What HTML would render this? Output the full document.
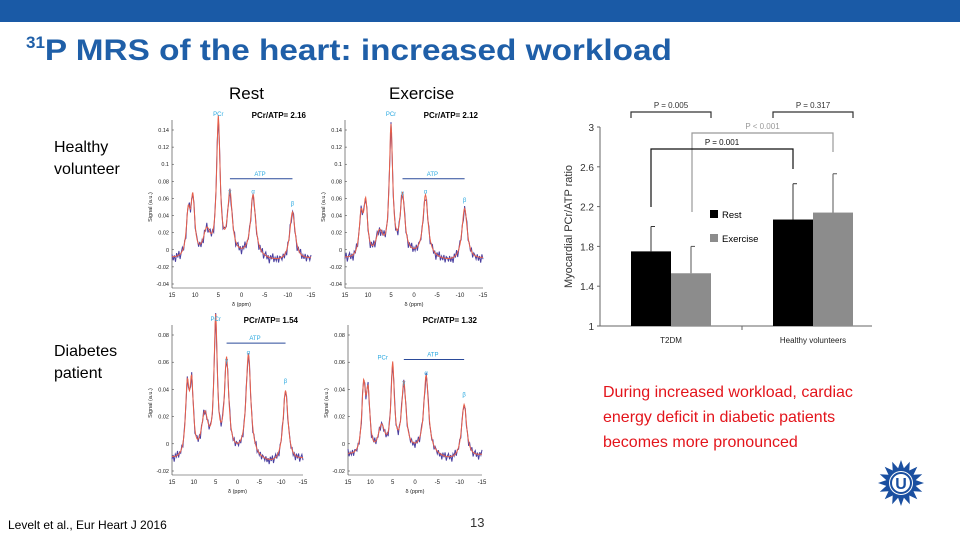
<!DOCTYPE html>
<html><head><meta charset="utf-8"><style>
html,body{margin:0;padding:0;background:#fff}
svg{display:block;font-family:"Liberation Sans",sans-serif}
</style></head><body>
<svg id="slide" width="960" height="540" viewBox="0 0 960 540">
<rect x="0" y="0" width="960" height="22" fill="#1a5aa6"/>
<text x="26" y="60" font-size="30" font-weight="bold" fill="#1f5fa8"><tspan font-size="17" dy="-12">31</tspan><tspan dy="12" textLength="627" lengthAdjust="spacingAndGlyphs">P MRS of the heart: increased workload</tspan></text>
<text x="229" y="99" font-size="17">Rest</text>
<text x="389" y="99" font-size="17">Exercise</text>
<text x="54" y="152" font-size="16"><tspan x="54">Healthy</tspan><tspan x="54" dy="22">volunteer</tspan></text>
<text x="54" y="356" font-size="16"><tspan x="54">Diabetes</tspan><tspan x="54" dy="22">patient</tspan></text>
<g id="spectra"></g>
<g id="bars"></g>
<text x="603" y="397" font-size="16" fill="#e3141b"><tspan x="603">During increased workload, cardiac</tspan><tspan x="603" dy="25">energy deficit in diabetic patients</tspan><tspan x="603" dy="25">becomes more pronounced</tspan></text>
<text x="8" y="529" font-size="12">Levelt  et al., Eur Heart J 2016</text>
<text x="470" y="527" font-size="13" fill="#333">13</text>
<g transform="translate(901,483)">
<polygon id="star" fill="#1a4fa0" points=""/>
<circle r="12" fill="#fff"/><circle r="10" fill="none" stroke="#1a4fa0" stroke-width="2"/>
<text x="0" y="6" font-size="16" font-weight="bold" fill="#1a4fa0" text-anchor="middle">U</text>
</g>
</svg>
<script>
var NS="http://www.w3.org/2000/svg";
function el(t,a,p){var e=document.createElementNS(NS,t);for(var k in a)e.setAttribute(k,a[k]);p.appendChild(e);return e;}
(function(){var pts=[];for(var i=0;i<32;i++){var r=i%2?15:23;var a=i*Math.PI/16;pts.push((r*Math.sin(a)).toFixed(1)+","+(-r*Math.cos(a)).toFixed(1));}document.getElementById('star').setAttribute('points',pts.join(' '));})();

// ---- spectra data ----
var peakPpm=[11.5,10.5,7.5,5,2.5,-2.5,-11];
var peakWidth=[0.5,0.5,1.0,0.45,0.6,0.65,0.7];
var peaksHV_rest=[0.038,0.055,0.02,0.148,0.06,0.06,0.046];
var peaksHV_ex=[0.035,0.05,0.018,0.138,0.058,0.06,0.05];
var peaksDM_rest=[0.037,0.039,0.02,0.086,0.056,0.062,0.041];
var peaksDM_ex=[0.039,0.033,0.012,0.054,0.04,0.047,0.031];
var baselines=[-0.012,-0.012,-0.013,-0.01];
var wiggle=[0.004,-0.006,0.002,-0.009,0.005,-0.003,0.007,-0.008,0.001,0.006,-0.005,0.003,-0.01,0.004,-0.002,0.008,-0.006,0.002,-0.004,0.005,-0.007,0.003,0.001,-0.005];
var ratios=["2.16","2.12","1.54","1.32"];
var yTicksTop=[0.14,0.12,0.1,0.08,0.06,0.04,0.02,0,-0.02,-0.04];
var yTicksBot=[0.08,0.06,0.04,0.02,0,-0.02];
var xTicks=[15,10,5,0,-5,-10,-15];
var panels=[
 {x0:172,x1:311,yv0:0.14,yp0:130,yv1:-0.04,yp1:284,p:peaksHV_rest,t:yTicksTop,name:'spectrum-healthy-rest'},
 {x0:345,x1:483,yv0:0.14,yp0:130,yv1:-0.04,yp1:284,p:peaksHV_ex,t:yTicksTop,name:'spectrum-healthy-exercise'},
 {x0:172,x1:303,yv0:0.08,yp0:335,yv1:-0.02,yp1:471,p:peaksDM_rest,t:yTicksBot,name:'spectrum-diabetes-rest'},
 {x0:348,x1:482,yv0:0.08,yp0:335,yv1:-0.02,yp1:471,p:peaksDM_ex,t:yTicksBot,name:'spectrum-diabetes-exercise'}];
var sg=document.getElementById('spectra');
panels.forEach(function(P,pi){
 var g=el('g',{},sg);
 
 
 var xs=function(v){return P.x0+(15-v)/30*(P.x1-P.x0);};
 var ys=function(v){return P.yp0+(P.yv0-v)/(P.yv0-P.yv1)*(P.yp1-P.yp0);};
 var bot=P.yp1+4;
 el('line',{x1:P.x0,y1:P.yp0-10,x2:P.x0,y2:bot,stroke:'#333','stroke-width':0.6},g);
 el('line',{x1:P.x0,y1:bot,x2:P.x1,y2:bot,stroke:'#333','stroke-width':0.6},g);
 P.t.forEach(function(v){var y=ys(v);el('line',{x1:P.x0,y1:y,x2:P.x0+2,y2:y,stroke:'#333','stroke-width':0.5},g);
  var t=el('text',{x:P.x0-3,y:y+2,'font-size':5.5,'text-anchor':'end',fill:'#222'},g);t.textContent=String(v);});
 xTicks.forEach(function(v){var t=el('text',{x:xs(v),y:bot+9,'font-size':6,'text-anchor':'middle',fill:'#222'},g);t.textContent=v;});
 var xl=el('text',{x:(P.x0+P.x1)/2,y:bot+18,'font-size':5.5,'text-anchor':'middle',fill:'#222'},g);xl.textContent='δ (ppm)';
 var yl=el('text',{x:0,y:0,'font-size':5.5,'text-anchor':'middle',fill:'#222',transform:'translate('+(P.x0-20)+','+((P.yp0+P.yp1)/2)+') rotate(-90)'},g);yl.textContent='Signal (a.u.)';
 var sc=(P.yv0-P.yv1)/0.18*0.7;
 var fit=[],raw=[];
 for(var i=0;i<=240;i++){var ppm=15-i*30/240;var s=baselines[pi]+0.003*Math.cos(ppm/3);
  for(var k=0;k<peakPpm.length;k++){var w=peakWidth[k],d=ppm-peakPpm[k];s+=(P.p[k]-baselines[pi])*w*w/(d*d+w*w);}
  fit.push(xs(ppm).toFixed(1)+','+ys(s).toFixed(1));
  if(i%2==0)raw.push(xs(ppm).toFixed(1)+','+ys(s+sc*wiggle[(i/2+pi*5)%wiggle.length]).toFixed(1));}
 el('polyline',{points:raw.join(' '),fill:'none',stroke:'#4a3fa0','stroke-width':1},g);
 el('polyline',{points:fit.join(' '),fill:'none',stroke:'#e8604a','stroke-width':1},g);
 var r=el('text',{x:P.x1-5,y:P.yp0-12,'font-size':8,'font-weight':'bold','text-anchor':'end'},g);r.textContent='PCr/ATP= '+ratios[pi];
 var pcrY=ys(P.p[3])-4;
 var pc=el('text',{x:xs(5)-(pi==3?10:0),y:(pi==3?ys(0.062):Math.min(pcrY,P.yp0-14)),'font-size':6,fill:'#29a8e0','text-anchor':'middle'},g);pc.textContent='PCr';
 var atpY=pi==3?ys(0.062):ys(pi<2?0.083:0.074);
 el('line',{x1:xs(2.5),y1:atpY,x2:xs(-11),y2:atpY,stroke:'#2a4a9a','stroke-width':1},g);
 var at=el('text',{x:xs(-4),y:atpY-3,'font-size':6,fill:'#29a8e0','text-anchor':'middle'},g);at.textContent='ATP';
 [['γ',4],['α',5],['β',6]].forEach(function(a){var t=el('text',{x:xs(peakPpm[a[1]]),y:ys(P.p[a[1]])-5,'font-size':6,fill:'#29a8e0','text-anchor':'middle'},g);t.textContent=a[0];});
});

// ---- bar chart data ----
var groups=["T2DM","Healthy volunteers"];
var restVals=[1.75,2.07];
var exVals=[1.53,2.14];
var restErr=[0.25,0.36];
var exErr=[0.27,0.39];
var yTicks=[1,1.4,1.8,2.2,2.6,3];
var bg=document.getElementById('bars');
var X0=600,X1=872,Y1=326,Y3=127;
function yb(v){return Y1-(v-1)/2*(Y1-Y3);}
function gx(i){return 671+i*142;}
el('line',{x1:X0,y1:Y3,x2:X0,y2:Y1,stroke:'#666','stroke-width':1},bg);
el('line',{x1:X0,y1:Y1,x2:X1,y2:Y1,stroke:'#666','stroke-width':1},bg);
el('line',{x1:742,y1:Y1,x2:742,y2:Y1+4,stroke:'#666','stroke-width':1},bg);
yTicks.forEach(function(v){el('line',{x1:X0-3,y1:yb(v),x2:X0,y2:yb(v),stroke:'#666'},bg);
 var t=el('text',{x:X0-6,y:yb(v)+4,'font-size':10,'text-anchor':'end',fill:'#333'},bg);t.textContent=String(v);});
var yt=el('text',{x:0,y:0,'font-size':11,'text-anchor':'middle',fill:'#333',transform:'translate(572,'+((Y1+Y3)/2)+') rotate(-90)'},bg);yt.textContent='Myocardial PCr/ATP ratio';
groups.forEach(function(gname,i){
 var c=gx(i);
 var r=el('rect',{x:c-40,y:yb(restVals[i]),width:40,height:Y1-yb(restVals[i]),fill:'#000'},bg);
 
 
 var e=el('rect',{x:c,y:yb(exVals[i]),width:40,height:Y1-yb(exVals[i]),fill:'#8c8c8c'},bg);
 
 
 el('line',{x1:c-20,y1:yb(restVals[i]),x2:c-20,y2:yb(restVals[i]+restErr[i]),stroke:'#333','stroke-width':1},bg);
 el('line',{x1:c-20,y1:yb(restVals[i]+restErr[i]),x2:c-16,y2:yb(restVals[i]+restErr[i]),stroke:'#333'},bg);
 el('line',{x1:c+20,y1:yb(exVals[i]),x2:c+20,y2:yb(exVals[i]+exErr[i]),stroke:'#555','stroke-width':1},bg);
 el('line',{x1:c+20,y1:yb(exVals[i]+exErr[i]),x2:c+24,y2:yb(exVals[i]+exErr[i]),stroke:'#555'},bg);
 var t=el('text',{x:c,y:343,'font-size':8,'text-anchor':'middle',fill:'#222'},bg);t.textContent=gname;
});
function bracket(x1,x2,y,d1,d2,col,label){
 el('polyline',{points:x1+','+d1+' '+x1+','+y+' '+x2+','+y+' '+x2+','+d2,fill:'none',stroke:col,'stroke-width':1.2},bg);
 var t=el('text',{x:(x1+x2)/2,y:y-4,'font-size':8,'text-anchor':'middle',fill:col},bg);t.textContent=label;}
bracket(631,711,112,118,118,'#333','P = 0.005');
bracket(773,853,112,118,118,'#333','P = 0.317');
bracket(692,833,133,212,152,'#999','P < 0.001');
bracket(651,793,149,207,169,'#111','P = 0.001');
el('rect',{x:710,y:210,width:8,height:8,fill:'#000'},bg);
var l1=el('text',{x:722,y:218,'font-size':9.5},bg);l1.textContent='Rest';
el('rect',{x:710,y:234,width:8,height:8,fill:'#8c8c8c'},bg);
var l2=el('text',{x:722,y:242,'font-size':9.5},bg);l2.textContent='Exercise';
</script>
</body></html>
